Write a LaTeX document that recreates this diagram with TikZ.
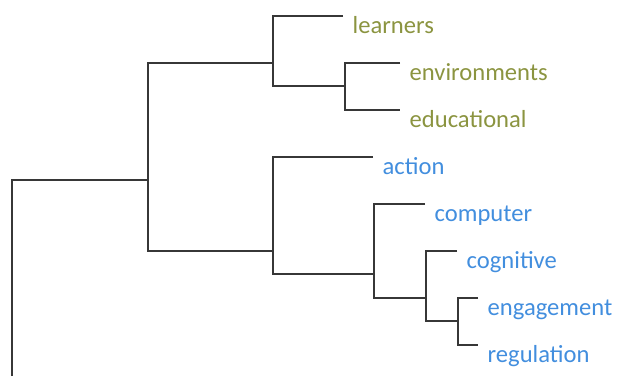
\documentclass[tikz,border=0pt]{standalone}
\usepackage{fontspec}
\setmainfont{Carlito}
\usepackage{tikz}
\usetikzlibrary{positioning}
\definecolor{olivetxt}{RGB}{139,148,64}
\definecolor{bluetxt}{RGB}{66,142,222}
\definecolor{branch}{RGB}{55,55,55}

\begin{document}
\begin{tikzpicture}[x=1pt,y=-1pt,
  link/.style={draw=branch,line width=2.2pt},
  leaf/.style={anchor=base west,inner sep=0pt,xshift=9.5pt,yshift=-17pt,font=\fontsize{24.6}{28}\selectfont},
  oliveleaf/.style={leaf,text=olivetxt},
  blueleaf/.style={leaf,text=bluetxt}]
\useasboundingbox (0,0) rectangle (622,376);
% leaf ends
\coordinate (learnersEnd) at (343,16);
\coordinate (environmentsEnd) at (400,63);
\coordinate (educationalEnd) at (400,110);
\coordinate (actionEnd) at (373,157);
\coordinate (computerEnd) at (425,204);
\coordinate (cognitiveEnd) at (457,251);
\coordinate (engagementEnd) at (478,298);
\coordinate (regulationEnd) at (478,345);
% joins
\coordinate (rootBot) at (12,376);
\coordinate (c1) at (148,180);
\coordinate (c2) at (273,63);
\coordinate (c3) at (345,86);
\coordinate (c4) at (273,251);
\coordinate (c5) at (374,274);
\coordinate (c6) at (426,298);
\coordinate (c7) at (458,321);
% branches
\draw[link] (rootBot) |- (c1);
\draw[link] (c2) -| (c1) |- (c4);
\draw[link] (learnersEnd) -| (c2) |- (c3);
\draw[link] (environmentsEnd) -| (c3) |- (educationalEnd);
\draw[link] (actionEnd) -| (c4) |- (c5);
\draw[link] (computerEnd) -| (c5) |- (c6);
\draw[link] (cognitiveEnd) -| (c6) |- (c7);
\draw[link] (engagementEnd) -| (c7) |- (regulationEnd);
% labels
\node[oliveleaf] (learners) at (learnersEnd) {learners};
\node[oliveleaf] (environments) at (environmentsEnd) {environments};
\node[oliveleaf] (educational) at (educationalEnd) {educational};
\node[blueleaf] (action) at (actionEnd) {action};
\node[blueleaf] (computer) at (computerEnd) {computer};
\node[blueleaf] (cognitive) at (cognitiveEnd) {cognitive};
\node[blueleaf] (engagement) at (engagementEnd) {engagement};
\node[blueleaf] (regulation) at (regulationEnd) {regulation};
\end{tikzpicture}
\end{document}
